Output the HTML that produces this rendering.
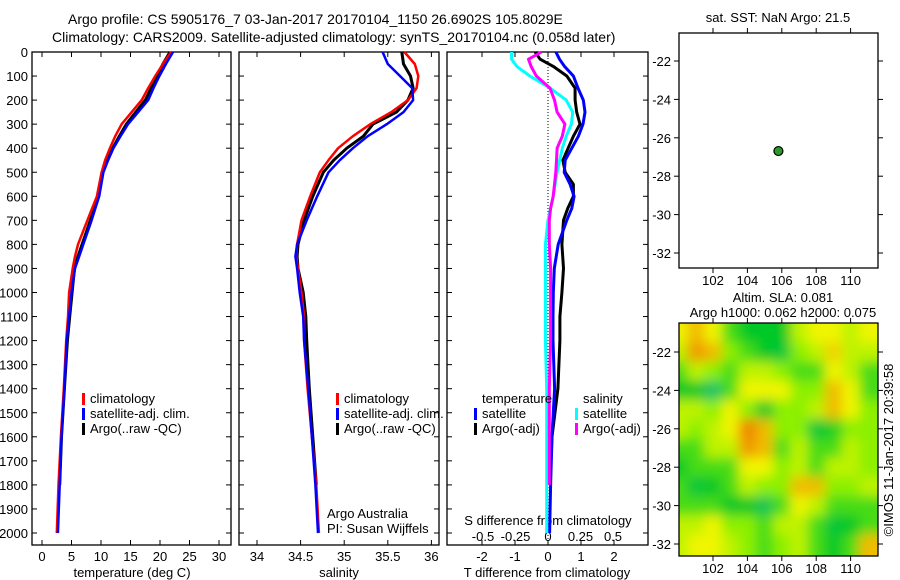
<!DOCTYPE html>
<html><head><meta charset="utf-8"><style>
body{margin:0;background:#fff;}
svg{display:block;font-family:"Liberation Sans",sans-serif;font-size:13px;}
</style></head><body>
<svg id="c" width="900" height="580" viewBox="0 0 900 580">
<text x="68" y="24" font-size="14">Argo profile: CS 5905176_7 03-Jan-2017 20170104_1150 26.6902S 105.8029E</text>
<text x="52" y="42" font-size="14">Climatology: CARS2009. Satellite-adjusted climatology: synTS_20170104.nc (0.058d later)</text>
<text x="778" y="22" text-anchor="middle">sat. SST: NaN Argo: 21.5</text>
<text x="783" y="302" text-anchor="middle">Altim. SLA: 0.081</text>
<text x="783" y="317" text-anchor="middle">Argo h1000: 0.062 h2000: 0.075</text>
<text transform="translate(893,450) rotate(-90)" text-anchor="middle">©IMOS 11-Jan-2017 20:39:58</text>
<text x="327" y="518">Argo Australia</text>
<text x="327" y="533">PI: Susan Wijffels</text>
</svg>
<script>
const depthTicks=[0,100,200,300,400,500,600,700,800,900,1000,1100,1200,1300,1400,1500,1600,1700,1800,1900,2000];
const tempTicks=[0,5,10,15,20,25,30];
const salTicks=[34,34.5,35,35.5,36];
const dTTicks=[-2,-1,0,1,2];
const dSTicks=[-0.5,-0.25,0,0.25,0.5];
const depths=[0,50,100,150,200,250,300,350,400,450,500,600,700,800,850,900,1000,1100,1200,1400,1600,1800,2000];
const tClim=[21.9,20.5,19.2,18.0,16.9,15.2,13.5,12.4,11.5,10.7,10.1,9.3,7.7,6.1,5.6,5.2,4.6,4.4,4.1,3.7,3.2,2.8,2.5];
const tSat=[22.2,21.0,19.9,18.9,18.0,16.3,14.6,13.3,12.1,11.2,10.4,9.7,8.4,7.0,6.3,5.6,5.0,4.6,4.2,3.8,3.3,3.0,2.7];
const tArgo=[21.7,20.5,19.5,18.5,17.5,15.9,14.3,13.1,12.0,11.1,10.3,9.5,8.2,6.8,6.1,5.5,5.1,4.7,4.3,3.8,3.3,3.0,null];
const sClim=[35.69,35.81,35.85,35.83,35.73,35.54,35.30,35.10,34.93,34.82,34.72,34.61,34.51,34.46,34.45,34.47,34.51,34.54,34.54,34.58,34.63,34.68,34.71];
const sSat=[35.44,35.50,35.64,35.78,35.79,35.68,35.49,35.27,35.10,34.95,34.82,34.69,34.57,34.46,34.44,34.46,34.49,34.53,34.54,34.59,34.63,34.67,34.70];
const sArgo=[35.66,35.68,35.76,35.79,35.73,35.60,35.33,35.22,35.03,34.88,34.76,34.64,34.54,34.47,34.46,34.47,34.53,34.56,34.57,34.60,34.64,34.68,null];
const dDepths=[0,30,60,100,150,200,250,300,350,400,450,500,550,600,650,700,800,900,1000,1100,1200,1400,1600,1800,2000];
const dTSat=[0.24,0.35,0.5,0.77,0.91,1.07,1.12,1.06,0.92,0.72,0.52,0.49,0.67,0.79,0.72,0.57,0.31,0.19,0.16,0.15,0.15,0.2,0.12,0.08,0.05];
const dTArgo=[-0.39,-0.24,0.16,0.57,0.82,0.82,0.87,0.97,0.77,0.61,0.45,0.52,0.77,0.77,0.6,0.47,0.42,0.47,0.42,0.36,0.36,0.3,0.12,0.05,null];
const dSSat=[-0.28,-0.28,-0.24,-0.14,0.015,0.14,0.19,0.18,0.14,0.11,0.09,0.07,0.055,0.04,0.02,0.0,-0.02,-0.02,-0.02,-0.02,-0.02,-0.01,-0.01,-0.01,-0.01];
const dSArgo=[-0.05,-0.15,-0.13,-0.09,0.015,0.05,0.07,0.13,0.11,0.07,0.065,0.06,0.05,0.04,0.02,0.01,0.01,0.02,0.02,0.02,0.02,0.01,0.01,0.01,null];
const latTicks=[-22,-24,-26,-28,-30,-32];
const lonTicks=[102,104,106,108,110];
const argoLon=[105.8029];const argoLat=[-26.6902];
const slaLons=[100,101,102,103,104,105,106,107,108,109,110,111];
const slaLats=[-21,-22,-23,-24,-25,-26,-27,-28,-29,-30,-31,-32];
const slaGrid=[
[3,3.5,3,1.5,1,1,1,2.5,3,3,2.5,3],
[2.5,3.8,3.5,2,1.5,1,0.8,2,2.5,3.3,2.5,2.5],
[1.5,2.5,2,1.5,2.5,2.5,2,1.5,1.5,3,2.5,1.5],
[1,1,0.3,1.5,3,3,3,2,2,3.5,3,1.5],
[2.5,2.5,2,3,2,1,2,2,2.5,3.5,3,2],
[2.5,2,2.5,3,4,3.5,2,2,0.8,1.2,2,2],
[1.5,1.5,2.5,2.5,3.8,3.5,1.5,2.5,1.5,1.5,2.5,2],
[1,1.5,1.5,1.5,3,3,2,2.5,1.5,2.5,2.5,2],
[1.5,0.8,1,1.5,2.5,2,2,3.5,3.5,2,2,2.5],
[1.5,1.5,1.5,1,1,0.5,1.5,3,2.5,1.5,1.5,1.5],
[2.5,2.5,3,2,2,1.5,2.5,2.5,1.5,0.8,1,1.5],
[2.5,3,3,2.5,2,1.5,2,2.5,1.5,1,1.5,3.5]];

const svg=document.getElementById('c');
const NS='http://www.w3.org/2000/svg';
function mk(t,a,parent){const e=document.createElementNS(NS,t);for(const k in a)e.setAttribute(k,a[k]);(parent||svg).appendChild(e);return e;}
const Y0=52,Y1=545;
const yD=d=>Y0+d*0.2405;
const xT=v=>42+v*5.9;
const xS=v=>257+(v-34)*87.2;
const xDT=v=>548+v*33;
const xDS=v=>548+v*130;

function frame(x0,x1,name){
  const r=mk('rect',{x:x0,y:Y0,width:x1-x0,height:Y1-Y0,fill:'none',stroke:'#000','stroke-width':1.3});
  
  
  depthTicks.forEach(d=>{
    mk('line',{x1:x0,x2:x0+5,y1:yD(d),y2:yD(d),stroke:'#000'});
    mk('line',{x1:x1,x2:x1-5,y1:yD(d),y2:yD(d),stroke:'#000'});
  });
}
function xticks(vals,fx,labels,ylab,name){
  vals.forEach((v,i)=>{
    const x=fx(v);
    mk('line',{x1:x,x2:x,y1:Y0,y2:Y0+5,stroke:'#000'});
    mk('line',{x1:x,x2:x,y1:Y1,y2:Y1-5,stroke:'#000'});
    if(labels){const t=mk('text',{x:x,y:ylab,'text-anchor':'middle'});t.textContent=labels[i];
      
      }
  });
}
function line(xs,ds,fx,color,w,name){
  let p='';xs.forEach((v,i)=>{if(v===null)return;p+=(p?'L':'M')+fx(v).toFixed(1)+','+yD(ds[i]).toFixed(1);});
  const e=mk('path',{d:p,fill:'none',stroke:color,'stroke-width':w,'stroke-linejoin':'round'});
  
  
}
frame(32,231,'temperature-panel');frame(239,439,'salinity-panel');frame(447,648,'difference-panel');
depthTicks.forEach(d=>{const t=mk('text',{x:28,y:yD(d)+5,'text-anchor':'end'});t.textContent=d;
  
  });
xticks(tempTicks,xT,tempTicks,561,'temp-tick-label');
xticks(salTicks,xS,salTicks,561,'salinity-tick-label');
xticks(dTTicks,xDT,dTTicks,561,'dt-tick-label');
dSTicks.forEach(v=>{const t=mk('text',{x:xDS(v),y:541,'text-anchor':'middle'});t.textContent=v;
  
  });
[[132,'temperature (deg C)','x-axis-title-temp'],[339,'salinity','x-axis-title-sal'],[547,'T difference from climatology','x-axis-title-dt']].forEach(a=>{
  const t=mk('text',{x:a[0],y:577,'text-anchor':'middle'});t.textContent=a[1];
  
  });
{const t=mk('text',{x:548,y:525,'text-anchor':'middle'});t.textContent='S difference from climatology';
 
 }
mk('line',{x1:548,x2:548,y1:Y0,y2:Y1,stroke:'#000','stroke-dasharray':'1,2'});
line(tArgo,depths,xT,'#000',3,'temp-argo-line');
line(tClim,depths,xT,'#f00',2.5,'temp-climatology-line');
line(tSat,depths,xT,'#00f',2.5,'temp-satellite-line');
line(sArgo,depths,xS,'#000',3,'sal-argo-line');
line(sClim,depths,xS,'#f00',2.5,'sal-climatology-line');
line(sSat,depths,xS,'#00f',2.5,'sal-satellite-line');
line(dTArgo,dDepths,xDT,'#000',3,'dt-argo-line');
line(dTSat,dDepths,xDT,'#00f',3,'dt-satellite-line');
line(dSSat,dDepths,xDS,'#0ff',3,'ds-satellite-line');
line(dSArgo,dDepths,xDS,'#f0f',3,'ds-argo-line');
function leg(x,y,color,label){
  if(color){const r=mk('rect',{x:x-8,y:y-10,width:3,height:12,fill:color});
    
    }
  const t=mk('text',{x:x,y:y});t.textContent=label;
  
  
}
leg(90,403,'#f00','climatology');leg(90,418,'#00f','satellite-adj. clim.');leg(90,433,'#000','Argo(..raw -QC)');
leg(344,403,'#f00','climatology');leg(344,418,'#00f','satellite-adj. clim.');leg(344,433,'#000','Argo(..raw -QC)');
leg(482,403,null,'temperature');leg(482,418,'#00f','satellite');leg(482,433,'#000','Argo(-adj)');
leg(583,403,null,'salinity');leg(583,418,'#0ff','satellite');leg(583,433,'#f0f','Argo(-adj)');
const xL=v=>713+(v-102)*17.2;
function mapAxes(y0,y1,yLat,name){
  const r=mk('rect',{x:679,y:y0,width:199,height:y1-y0,fill:'none',stroke:'#000','stroke-width':1.3});
  
  
  latTicks.forEach(v=>{const y=yLat(v);
    mk('line',{x1:679,x2:674,y1:y,y2:y,stroke:'#000'});mk('line',{x1:878,x2:883,y1:y,y2:y,stroke:'#000'});
    const t=mk('text',{x:671,y:y+5,'text-anchor':'end'});t.textContent=v;
    
    });
  lonTicks.forEach(v=>{const x=xL(v);
    mk('line',{x1:x,x2:x,y1:y1,y2:y1+5,stroke:'#000'});mk('line',{x1:x,x2:x,y1:y0,y2:y0-5,stroke:'#000'});
    const t=mk('text',{x:x,y:y1+17,'text-anchor':'middle'});t.textContent=v;
    
    });
}
const yLat1=v=>61+(-22-v)*19.2;
const yLat2=v=>352+(-22-v)*19.2;
const defs=mk('defs',{});
const clip=mk('clipPath',{id:'mc'},defs);mk('rect',{x:679,y:323,width:199,height:233},clip);
const flt=mk('filter',{id:'bl',x:'-10%',y:'-10%',width:'120%',height:'120%'},defs);mk('feGaussianBlur',{stdDeviation:6},flt);
const stops=[[0,[16,192,128]],[1,[0,200,40]],[2,[140,240,0]],[3,[240,245,0]],[4,[240,130,0]]];
function col(v){v=Math.max(0,Math.min(4,v));const i=Math.min(3,Math.floor(v)),f=v-i;const a=stops[i][1],b=stops[i+1][1];
  return 'rgb('+a.map((c,k)=>Math.round(c+(b[k]-c)*f)).join(',')+')';}
const gC=mk('g',{'clip-path':'url(#mc)'});
mk('rect',{x:679,y:323,width:199,height:233,fill:col(2)},gC);
const gH=mk('g',{filter:'url(#bl)'},gC);


slaLats.forEach((la,i)=>slaLons.forEach((lo,j)=>{
  const c=mk('rect',{x:xL(lo-0.5)-(j==0?12:0),y:yLat2(la+0.5)-(i==0?12:0),width:17.2+(j==0||j==slaLons.length-1?12:0)+1,height:19.2+(i==0||i==slaLats.length-1?12:0)+1,fill:col(slaGrid[i][j])},gH);
  
  
}));
mapAxes(33,268,yLat1,'sst-map-frame');
mapAxes(323,556,yLat2,'sla-map-frame');
argoLon.forEach((lo,i)=>{const c=mk('circle',{cx:xL(lo),cy:yLat1(argoLat[i]),r:4.5,fill:'#2a9a2a',stroke:'#000','stroke-width':1.2});
  
  });
</script>
</body></html>
